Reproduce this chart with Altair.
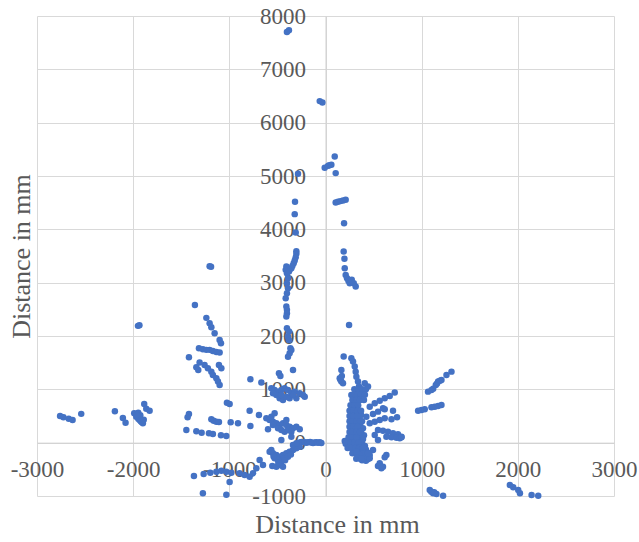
import altair as alt
import pandas as pd

# ---- data (mm) ----
far_left_x = [-2760, -2725, -2670, -2630, -2540]
far_left_y = [500, 475, 450, 425, 540]

left2000_x = [-2190, -2107, -2079, -1989, -1947, -1968, -1933, -1913, -1885, -1864, -1829,
              -1947, -1899, -1926, -1920, -1890, -1960, -1950, -1935]
left2000_y = [589, 463, 375, 552, 563, 488, 426, 388, 726, 638, 600,
              450, 364, 514, 400, 430, 520, 2190, 2200]

left1200_x = [-1358, -1239, -1205, -1187, -1153, -1101, -1087,
              -1316, -1275, -1239, -1205, -1171, -1135, -1101,
              -1420, -1343, -1323, -1309, -1257, -1223, -1187, -1171, -1135, -1118, -1101,
              -1108, -1083, -1205, -1190]
left1200_y = [2583, 2340, 2240, 2165, 2052, 1927, 1865,
              1771, 1750, 1740, 1740, 1720, 1700, 1690,
              1602, 1414, 1364, 1501, 1458, 1396, 1332, 1270, 1208, 1145, 1083,
              1458, 1396, 3310, 3300]

left_low_x = [-1025, -997, -1420, -1434, -1187, -1163, -1135, -1108, -986, -910,
              -1447, -1343, -1288, -1212, -1171, -1087, -1031]
left_low_y = [750, 726, 538, 476, 439, 413, 394, 388, 383, 364,
              238, 214, 188, 176, 163, 139, 126]

left_neg_x = [-1368, -1267, -1198, -1135, -1083, -1031, -979, -997, -1275, -1031,
              -685, -650, -719, -553, -754, -893, -841, -789]
left_neg_y = [-625, -587, -563, -544, -525, -544, -563, -737, -950, -975,
              -325, -418, -481, -437, -575, -575, -606, -637]

midleft_top_x = [-373, -355, -390, -338, -484, -469, -781, -667]
midleft_top_y = [1677, 1739, 1613, 1364, 1302, 1251, 1189, 1126]

mid1000_x = [-563, -529, -494, -459, -425, -390, -355, -321, -268, -216,
             -511, -477, -442, -407, -373, -303, -234, -546, -459, -338]
mid1000_y = [1020, 989, 957, 989, 1020, 989, 927, 957, 927, 863,
             895, 833, 801, 863, 833, 833, 895, 927, 895, 895]

mid400_x = [-615, -581, -546, -511, -477, -442, -407, -373, -338, -303, -268,
            -546, -494, -459, -425, -390, -355, -598, -563, -529, -407,
            -789, -692, -781, -459, -355]
mid400_y = [457, 426, 394, 364, 332, 364, 332, 300, 270, 300, 251,
            332, 270, 238, 206, 238, 206, 251, 488, 552, 426,
            600, 520, 313, 51, 113]

zero_x = [-268, -250, -216, -200, -182, -160, -147, -130, -112, -95, -78, -60, -43]
zero_y = [5, 15, 10, 0, 8, 12, 5, -5, 3, 10, 0, 8, -5]

midneg_x = [-581, -546, -511, -477, -442, -407, -373, -338, -303, -268,
            -529, -494, -459, -425, -390, -477, -511, -442, -563, -338, -303,
            -490, -420, -360, -540]
midneg_y = [-169, -199, -231, -263, -231, -199, -169, -137, -105, -75,
            -293, -325, -356, -293, -263, -418, -450, -450, -137, -43, -11,
            -380, -330, -220, -260]

col_left_x = [-401, -380, -286, -317, -320, -310,
              -303, -303, -310, -320, -331, -344, -355, -373, -390, -407, -414, -401, -380,
              -390, -401, -390, -401, -414, -407, -401, -401, -407, -401, -380, -390, -380, -365]
col_left_y = [7698, 7735, 5041, 4516, 4285, 3940,
              3590, 3540, 3478, 3415, 3366, 3315, 3272, 3240, 3253, 3303, 3240, 3178, 3209,
              3084, 2991, 2897, 2803, 2709, 2552, 2490, 2428, 2364, 2146, 2083, 1989, 1927, 1771]

top_x = [-60, -32, -8, 26, 40, 61, 96, 106]
top_y = [6404, 6379, 5154, 5190, 5200, 5210, 5366, 5054]

col_right_x = [106, 130, 155, 182, 210, 193, 189, 197, 200, 210, 224, 238, 252, 273, 294, 314, 245]
col_right_y = [4502, 4516, 4529, 4540, 4553, 4116, 3584, 3447, 3272, 3146, 3084, 3034, 2991, 3053, 2991, 2927, 2208]

right_upper_x = [189, 165, 148, 165, 182, 155, 170, 269, 286, 304, 314, 321, 338, 348, 356,
                 408, 442, 269, 286, 304]
right_upper_y = [1614, 1364, 1208, 1145, 1114, 1180, 1250, 1583, 1520, 1426, 1332, 1238, 1145, 1051, 957,
                 1114, 1051, 895, 801, 739]

dense_x = [300, 330, 280, 320, 350, 290, 330, 370, 280, 310, 350, 300, 340, 380, 290, 320, 360,
           280, 310, 350, 390, 300, 340, 370, 290, 320, 360, 400, 280, 310, 350, 390, 260, 300,
           340, 380, 230, 250, 290, 330, 370, 410, 300, 340, 380, 420, 320, 360, 400, 440, 340,
           380, 420, 360, 400, 440, 380, 420, 200, 215, 225, 240, 210, 217, 234]
dense_y = [700, 690, 640, 620, 600, 560, 540, 520, 500, 480, 460, 430, 410, 400, 380, 360, 340,
           320, 300, 280, 270, 250, 230, 210, 190, 170, 150, 140, 130, 110, 90, 70, 60, 40,
           20, 10, 20, 0, -20, -30, -50, -60, -80, -100, -120, -130, -150, -170, -180, -190, -220,
           -240, -250, -280, -300, -310, -330, -340, 30, 10, -10, 40, -20, 19, -11]

blob_x = [300, 340, 380, 420, 290, 330, 370, 410, 280, 320, 360, 400, 260, 300, 340,
          250, 290, 330, 370, 250, 290, 330, 250, 280, 320, 360, 250, 290, 330,
          250, 280, 320, 360, 240, 280, 320, 220, 260, 300, 340,
          230, 270, 310, 350, 390, 280, 320, 360, 400, 320, 360, 400]
blob_y = [1000, 1000, 1000, 1000, 900, 900, 900, 900, 800, 800, 800, 800, 700, 700, 700,
          600, 600, 600, 600, 500, 500, 500, 400, 400, 400, 400, 300, 300, 300,
          200, 200, 200, 200, 100, 100, 100, 0, 0, 0, 0,
          -100, -100, -100, -100, -100, -200, -200, -200, -200, -300, -300, -300]

fans_x = [460, 512, 564, 616, 668, 720, 425, 494, 546, 616, 702, 598,
          460, 512, 564, 616, 686, 744, 546, 598, 650, 702, 754, 790,
          633, 686, 738, 772, 512, 546,
          494, 460, 633, 616, 564, 546, 581, 598,
          390, 425, 460, 356, 321, 373, 442]
fans_y = [675, 739, 788, 833, 876, 939, 488, 538, 582, 627, 600, 645,
          364, 394, 426, 457, 439, 476, 238, 225, 206, 176, 158, 113,
          113, 101, 94, 83, 144, 51,
          -137, -231, -231, -274, -387, -437, -481, -450,
          -199, -263, -293, -231, -169, -293, -199]

far_right_x = [1310, 1258, 1206, 1190, 1171, 1160, 1147, 1120, 1102, 1066,
               1136, 1171, 1206, 1102, 963, 998, 1032, 790,
               1084, 1100, 1119, 1130, 1154, 1223,
               1917, 1952, 2004, 2022, 2143, 2212]
far_right_y = [1332, 1270, 1176, 1160, 1145, 1110, 1083, 1010, 989, 957,
               675, 688, 707, 664, 600, 613, 627, 101,
               -887, -920, -950, -930, -963, -994,
               -794, -837, -887, -950, -981, -994]

x_ticks = [-3000, -2000, -1000, 0, 1000, 2000, 3000]
y_ticks = [-1000, 0, 1000, 2000, 3000, 4000, 5000, 6000, 7000, 8000]

xs = (far_left_x + left2000_x + left1200_x + left_low_x + left_neg_x + midleft_top_x + mid1000_x
      + mid400_x + zero_x + midneg_x + col_left_x + top_x + col_right_x + right_upper_x
      + dense_x + blob_x + fans_x + far_right_x)
ys = (far_left_y + left2000_y + left1200_y + left_low_y + left_neg_y + midleft_top_y + mid1000_y
      + mid400_y + zero_y + midneg_y + col_left_y + top_y + col_right_y + right_upper_y
      + dense_y + blob_y + fans_y + far_right_y)

df = pd.DataFrame({"x": xs, "y": ys})

W, H = 577, 480
zero_py = H * 8000 / 9000
zero_px = W / 2
FONT = "Liberation Serif"
GREY = "#595959"

x_axis = alt.Axis(
    values=x_ticks, offset=-(H - zero_py), grid=True, gridColor="#d9d9d9",
    domainColor="#d0d0d0", ticks=False, tickSize=0, labelPadding=16, labelFlush=False,
    labelFont=FONT, labelFontSize=23, labelColor=GREY, labelExpr="'' + datum.value",
    title="Distance in mm", titleFont=FONT, titleFontSize=26, titleFontWeight="normal",
    titleColor=GREY, titleX=300, titleY=82, titleBaseline="middle", titleAlign="center",
)
y_axis = alt.Axis(
    values=y_ticks, offset=-zero_px, grid=True, gridColor="#d9d9d9",
    domainColor="#d0d0d0", ticks=False, tickSize=0, labelPadding=20, labelFlush=False,
    labelFont=FONT, labelFontSize=23, labelColor=GREY, labelExpr="'' + datum.value",
    title="Distance in mm", titleFont=FONT, titleFontSize=26, titleFontWeight="normal",
    titleColor=GREY, titleX=-zero_px - 16, titleY=H / 2, titleBaseline="middle",
    titleAlign="center", titleAngle=270,
)

chart = alt.Chart(df).mark_circle(size=42, color="#4472C4", opacity=1).encode(
    x=alt.X("x:Q", scale=alt.Scale(domain=[-3000, 3000], nice=False, zero=False), axis=x_axis),
    y=alt.Y("y:Q", scale=alt.Scale(domain=[-1000, 8000], nice=False, zero=False), axis=y_axis),
).properties(
    width=W, height=H,
    autosize=alt.AutoSizeParams(type="none"),
    padding={"left": 37, "top": 16, "right": 25, "bottom": 46},
    background="white",
).configure_view(strokeWidth=0)

chart.save("out.html", embed_options={"renderer": "svg", "actions": False})
